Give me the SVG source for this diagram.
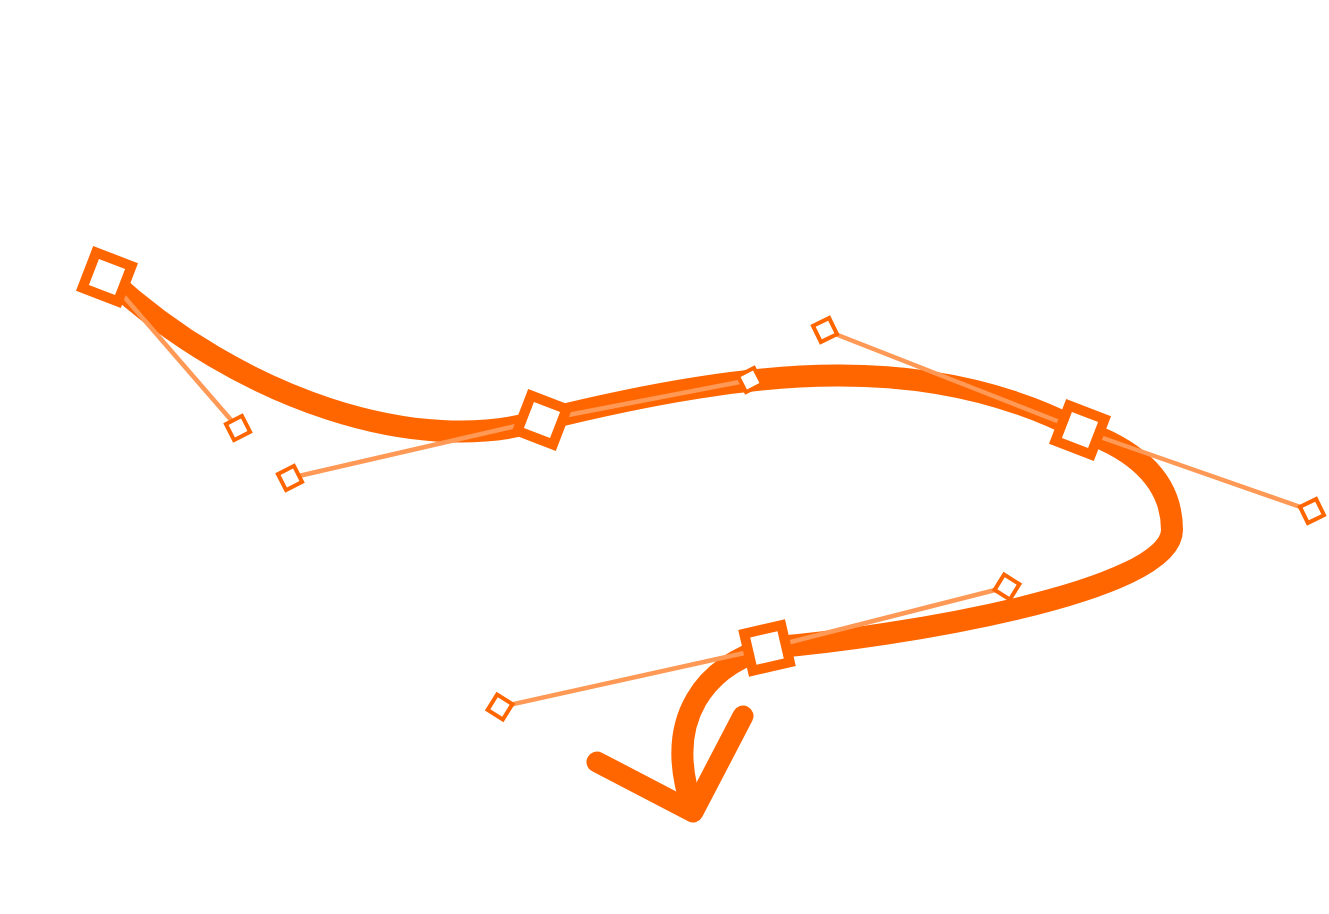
<svg xmlns="http://www.w3.org/2000/svg" width="1329" height="914" viewBox="0 0 1329 914">
<style>
.curve{fill:none;stroke:#FF6600;stroke-width:22}
.arrow{fill:none;stroke:#FF6600;stroke-width:21;stroke-linecap:round;stroke-linejoin:round}
.hl{stroke:#FF9955;stroke-width:4.5;fill:none}
.anchor{fill:#FFFFFF;stroke:#FF6600;stroke-width:10}
.hp{fill:#FFFFFF;stroke:#FF6600;stroke-width:4}
</style>
<rect width="1329" height="914" fill="#FFFFFF"/>
<g id="connectors">
<path class="curve" d="M107,277 C240,400 420,458 542,420 C760,366 930,352 1080,430 C1135,449 1172,480 1172,530 C1172,592 900,637 767,648 C710,665 660,715 693,810"/>
<path class="arrow" d="M597,762 L693,812 L743,716"/>
<line class="hl" x1="107" y1="277" x2="238" y2="428"/>
<line class="hl" x1="290" y1="478" x2="542" y2="420"/>
<line class="hl" x1="542" y1="420" x2="750" y2="380"/>
<line class="hl" x1="825" y1="330" x2="1080" y2="430"/>
<line class="hl" x1="1080" y1="430" x2="1312" y2="511"/>
<line class="hl" x1="1007" y1="587" x2="767" y2="648"/>
<line class="hl" x1="767" y1="648" x2="500" y2="707"/>
</g>
<g id="h0"><rect class="hp" x="-9" y="-9" width="18" height="18" transform="translate(238,428) rotate(-27)"/></g>
<g id="h1"><rect class="hp" x="-9" y="-9" width="18" height="18" transform="translate(290,478) rotate(-27)"/></g>
<g id="h2"><rect class="hp" x="-9" y="-9" width="18" height="18" transform="translate(750,380) rotate(-27)"/></g>
<g id="h3"><rect class="hp" x="-9" y="-9" width="18" height="18" transform="translate(825,330) rotate(-26)"/></g>
<g id="h4"><rect class="hp" x="-9" y="-9" width="18" height="18" transform="translate(1312,511) rotate(-26)"/></g>
<g id="h5"><rect class="hp" x="-9" y="-9" width="18" height="18" transform="translate(1007,587) rotate(32)"/></g>
<g id="h6"><rect class="hp" x="-9" y="-9" width="18" height="18" transform="translate(500,707) rotate(32)"/></g>
<g id="a0"><rect class="anchor" x="-19" y="-19" width="38" height="38" transform="translate(107,277) rotate(21)"/></g>
<g id="a1"><rect class="anchor" x="-19" y="-19" width="38" height="38" transform="translate(542,420) rotate(21)"/></g>
<g id="a2"><rect class="anchor" x="-19" y="-19" width="38" height="38" transform="translate(1080,430) rotate(21)"/></g>
<g id="a3"><rect class="anchor" x="-19" y="-19" width="38" height="38" transform="translate(767,648) rotate(-13)"/></g>
</svg>
